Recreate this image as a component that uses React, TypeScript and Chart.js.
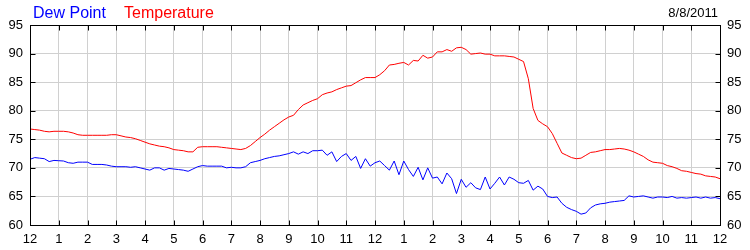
import React, { useEffect, useRef } from "react";
import { Chart, registerables } from "chart.js";

Chart.register(...registerables);

// 10-minute readings from 12 am to 12 am (145 values each)
const temperature: number[] = [
  76.8, 76.7, 76.6, 76.4, 76.3, 76.4, 76.4, 76.4, 76.3, 76.1, 75.8, 75.7,
  75.7, 75.7, 75.7, 75.7, 75.7, 75.8, 75.8, 75.6, 75.4, 75.3, 75.1, 74.8,
  74.5, 74.2, 74.0, 73.8, 73.7, 73.5, 73.2, 73.1, 73.0, 72.8, 72.8, 73.6,
  73.7, 73.7, 73.7, 73.7, 73.6, 73.5, 73.4, 73.3, 73.2, 73.4, 73.9, 74.6,
  75.3, 75.9, 76.6, 77.2, 77.8, 78.4, 78.9, 79.2, 80.2, 81.0, 81.4, 81.8,
  82.1, 82.8, 83.1, 83.3, 83.7, 84.0, 84.3, 84.4, 84.9, 85.4, 85.8, 85.8,
  85.8, 86.3, 87.0, 88.0, 88.1, 88.3, 88.45, 88.0, 88.8, 88.7, 89.7, 89.2,
  89.4, 90.3, 90.3, 90.7, 90.4, 91.0, 91.1, 90.7, 89.9, 90.0, 90.1, 89.9,
  89.9, 89.6, 89.6, 89.6, 89.5, 89.4, 89.0, 88.6, 85.6, 80.4, 78.3, 77.7,
  77.2, 76.0, 74.3, 72.6, 72.2, 71.8, 71.6, 71.7, 72.2, 72.7, 72.8, 73.0,
  73.2, 73.2, 73.3, 73.4, 73.3, 73.1, 72.8, 72.4, 72.0, 71.4, 71.0, 70.9,
  70.8, 70.4, 70.2, 69.9, 69.5, 69.4, 69.2, 69.0, 68.9, 68.6, 68.5, 68.4,
  68.1,
];

const dewPoint: number[] = [
  71.5, 71.8, 71.7, 71.6, 71.1, 71.3, 71.25, 71.2, 70.9, 70.8, 71.0, 71.0,
  71.0, 70.6, 70.6, 70.6, 70.5, 70.3, 70.2, 70.2, 70.2, 70.1, 70.2, 70.0,
  69.8, 69.6, 70.0, 70.0, 69.6, 69.9, 69.8, 69.7, 69.6, 69.4, 69.8, 70.2,
  70.4, 70.3, 70.3, 70.3, 70.3, 70.0, 70.1, 70.0, 70.0, 70.2, 70.9, 71.1,
  71.3, 71.6, 71.8, 72.0, 72.1, 72.3, 72.5, 72.8, 72.4, 72.8, 72.5, 73.0,
  73.0, 73.1, 72.2, 72.8, 71.1, 72.0, 72.5, 71.3, 72.0, 69.9, 71.6, 70.3,
  70.9, 71.2, 70.4, 69.6, 71.2, 68.8, 71.2, 69.7, 68.5, 70.1, 67.9, 70.0,
  68.2, 68.4, 67.2, 69.1, 68.1, 65.5, 68.0, 66.6, 67.4, 66.5, 66.2, 68.4,
  66.3, 67.3, 68.4, 67.0, 68.4, 68.0, 67.4, 67.3, 67.8, 66.1, 66.8, 66.3,
  65.0, 64.8, 64.9, 63.8, 63.1, 62.7, 62.4, 61.9, 62.1, 63.0, 63.5, 63.7,
  63.8, 64.0, 64.1, 64.2, 64.3, 65.1, 64.9, 65.0, 65.1, 64.9, 64.7, 64.9,
  64.9, 64.8, 65.0, 64.7, 64.8, 64.7, 64.8, 64.9, 64.7, 64.9, 64.7, 64.8,
  64.6,
];

const hourLabels: string[] = [
  "12", "1", "2", "3", "4", "5", "6", "7", "8", "9", "10", "11",
  "12", "1", "2", "3", "4", "5", "6", "7", "8", "9", "10", "11", "12",
];

const seriesNames: string[] = ["Dew Point", "Temperature"];
const dateLabel = "8/8/2011";

const FONT = "Arial, 'Liberation Sans', sans-serif";

const framePlugin = {
  id: "frame",
  afterDraw(chart: any) {
    const { ctx, chartArea: a, scales } = chart;
    ctx.save();
    ctx.strokeStyle = "#000";
    ctx.lineWidth = 1;
    ctx.beginPath();
    const L = Math.round(a.left) + 0.5;
    const R = Math.round(a.right) + 0.5;
    const T = Math.round(a.top) + 0.5;
    const B = Math.round(a.bottom) + 0.5;
    scales.x.ticks.forEach((t: any) => {
      const px = Math.round(scales.x.getPixelForValue(t.value)) + 0.5;
      ctx.moveTo(px, T);
      ctx.lineTo(px, T + 5);
      ctx.moveTo(px, B);
      ctx.lineTo(px, B - 5);
    });
    scales.y.ticks.forEach((t: any) => {
      const py = Math.round(scales.y.getPixelForValue(t.value)) + 0.5;
      ctx.moveTo(L, py);
      ctx.lineTo(L + 5, py);
      ctx.moveTo(R, py);
      ctx.lineTo(R - 5, py);
    });
    ctx.stroke();
    ctx.strokeRect(L, T, R - L, B - T);

    ctx.textBaseline = "alphabetic";
    ctx.font = `16px ${FONT}`;
    ctx.textAlign = "left";
    ctx.fillStyle = "#0000ff";
    ctx.fillText(seriesNames[0], 33, 18);
    ctx.fillStyle = "#ff0000";
    ctx.fillText(seriesNames[1], 124, 18);
    ctx.font = `13px ${FONT}`;
    ctx.fillStyle = "#000";
    ctx.textAlign = "right";
    ctx.fillText(dateLabel, 718, 17);
    ctx.restore();
  },
};

export default function App() {
  const ref = useRef<HTMLCanvasElement>(null);

  useEffect(() => {
    document.body.style.margin = "0";
    const toPoints = (arr: number[]) => arr.map((v, i) => ({ x: i / 6, y: v }));
    const chart = new Chart(ref.current as HTMLCanvasElement, {
      type: "line",
      data: {
        datasets: [
          {
            label: seriesNames[1],
            data: toPoints(temperature),
            borderColor: "#ff0000",
            borderWidth: 1,
            pointRadius: 0,
            tension: 0,
            yAxisID: "y",
          },
          {
            label: seriesNames[0],
            data: toPoints(dewPoint),
            borderColor: "#0000ff",
            borderWidth: 1,
            pointRadius: 0,
            tension: 0,
            yAxisID: "y",
          },
        ],
      },
      options: {
        animation: false,
        responsive: false,
        maintainAspectRatio: false,
        layout: { padding: { top: 25, left: 0, right: 0, bottom: 0 } },
        plugins: {
          legend: { display: false },
          tooltip: { enabled: false },
          title: { display: false },
        },
        scales: {
          x: {
            type: "linear",
            min: 0,
            max: 24,
            afterFit: (s: any) => {
              s.height = 25;
            },
            grid: { color: "#d0d0d0", drawTicks: false },
            border: { display: false },
            ticks: {
              stepSize: 1,
              autoSkip: false,
              maxRotation: 0,
              padding: 7,
              color: "#000",
              font: { family: FONT, size: 13 },
              callback: (v: any) => hourLabels[Math.round(Number(v))],
            },
          },
          y: {
            position: "left",
            min: 60,
            max: 95,
            afterFit: (s: any) => {
              s.width = 30;
            },
            grid: { color: "#d0d0d0", drawTicks: false },
            border: { display: false },
            ticks: {
              stepSize: 5,
              padding: 7,
              color: "#000",
              font: { family: FONT, size: 13 },
            },
          },
          y2: {
            position: "right",
            min: 60,
            max: 95,
            afterFit: (s: any) => {
              s.width = 30;
            },
            grid: { display: false, drawTicks: false },
            border: { display: false },
            ticks: {
              stepSize: 5,
              padding: 7,
              color: "#000",
              font: { family: FONT, size: 13 },
            },
          },
        },
      },
      plugins: [framePlugin],
    } as any);
    return () => chart.destroy();
  }, []);

  return (
    <div style={{ position: "absolute", left: 0, top: 0, width: 750, height: 250, background: "#fff" }}>
      <canvas ref={ref} width={750} height={250} style={{ width: 750, height: 250 }} />
    </div>
  );
}
